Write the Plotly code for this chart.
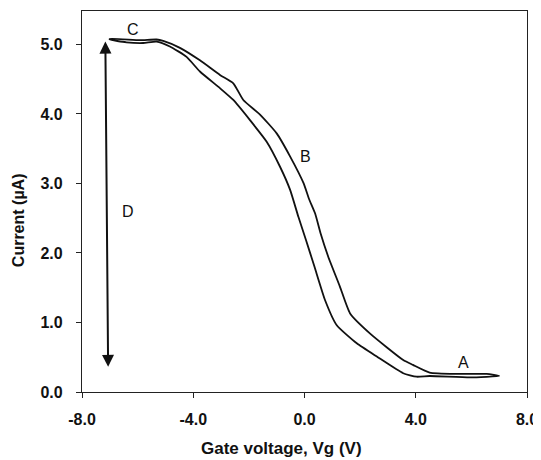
import plotly.graph_objects as go

# Outer (right) branch of the hysteresis loop, from +7 V back to -7 V
outer_v = [7.0, 6.55, 5.5, 4.5, 3.9, 3.55, 2.36, 1.64, 1.27, 0.85, 0.58, 0.38, 0.16,
           -0.03, -0.52, -1.00, -1.60, -2.20, -2.56, -3.04, -3.76, -4.48, -5.08,
           -5.32, -5.92, -7.0]
outer_i = [0.23, 0.26, 0.26, 0.28, 0.39, 0.46, 0.84, 1.13, 1.52, 1.95, 2.28, 2.57, 2.78,
           3.00, 3.39, 3.72, 3.99, 4.20, 4.44, 4.56, 4.77, 4.95, 5.05,
           5.07, 5.06, 5.08]

# Inner (left) branch, from -7 V to +7 V
inner_v = [-7.0, -6.4, -5.8, -5.32, -4.84, -4.24, -3.76, -3.04, -2.56, -1.96, -1.36,
           -0.88, -0.52, -0.22, 0.05, 0.36, 0.74, 1.16, 1.88, 2.60, 3.55, 4.03, 4.5,
           5.95, 7.0]
inner_i = [5.07, 5.03, 5.02, 5.04, 4.97, 4.82, 4.61, 4.37, 4.20, 3.91, 3.60,
           3.24, 2.91, 2.52, 2.19, 1.80, 1.32, 0.96, 0.70, 0.51, 0.27, 0.22, 0.23,
           0.21, 0.23]

# Point labels
label_text = ["A", "B", "C", "D"]
label_v = [5.71, 0.02, -6.18, -6.34]
label_i = [0.42, 3.39, 5.22, 2.59]

# Double arrow (D)
arrow_v = [-7.16, -7.06]
arrow_i = [5.04, 0.34]

x_ticks = [-8, -4, 0, 4, 8]
x_ticktext = ["-8.0", "-4.0", "0.0", "4.0", "8.0"]
y_ticks = [0, 1, 2, 3, 4, 5]
y_ticktext = ["0.0", "1.0", "2.0", "3.0", "4.0", "5.0"]

FONT = "Liberation Sans, Arial, sans-serif"

fig = go.Figure()
fig.add_trace(go.Scatter(
    x=outer_v + inner_v, y=outer_i + inner_i, mode="lines",
    line=dict(color="#111111", width=1.8, shape="spline", smoothing=0.5),
    showlegend=False, hoverinfo="skip"))

annotations = []
for t, v, i in zip(label_text, label_v, label_i):
    annotations.append(dict(x=v, y=i, xref="x", yref="y", text=t, showarrow=False,
                            font=dict(family=FONT, size=16, color="#111111")))
annotations.append(dict(x=arrow_v[0], y=arrow_i[0], ax=arrow_v[1], ay=arrow_i[1],
                        xref="x", yref="y", axref="x", ayref="y", text="",
                        showarrow=True, arrowhead=2, arrowside="end+start",
                        arrowsize=1.2, arrowwidth=2, arrowcolor="#111111"))
annotations.append(dict(x=0.449, y=-0.147, xref="paper", yref="paper",
                        text="<b>Gate voltage, Vg (V)</b>", showarrow=False,
                        xanchor="center", yanchor="middle",
                        font=dict(family=FONT, size=17, color="#111111")))
annotations.append(dict(x=-0.1438, y=0.451, xref="paper", yref="paper",
                        text="<b>Current (µA)</b>", showarrow=False, textangle=-90,
                        xanchor="center", yanchor="middle",
                        font=dict(family=FONT, size=16, color="#111111")))

axis_common = dict(showgrid=False, zeroline=False, showline=True, linecolor="#222222",
                   linewidth=1.3, mirror=True, ticks="outside", ticklen=5,
                   tickcolor="#222222", tickwidth=1.3, automargin=False,
                   tickfont=dict(family=FONT, size=16, color="#111111", weight="bold"))

# The page body adds an 8 px offset, so the figure is 8 px smaller than the window
fig.update_layout(
    width=533, height=452,
    margin=dict(l=74, r=14, t=3, b=68),
    plot_bgcolor="white", paper_bgcolor="white",
    xaxis=dict(range=[-8, 8], tickvals=x_ticks, ticktext=x_ticktext,
               ticklabelstandoff=8, **axis_common),
    yaxis=dict(range=[0, 5.48], tickvals=y_ticks, ticktext=y_ticktext,
               ticklabelstandoff=10, **axis_common),
    annotations=annotations,
)

fig.write_html("out.html")
